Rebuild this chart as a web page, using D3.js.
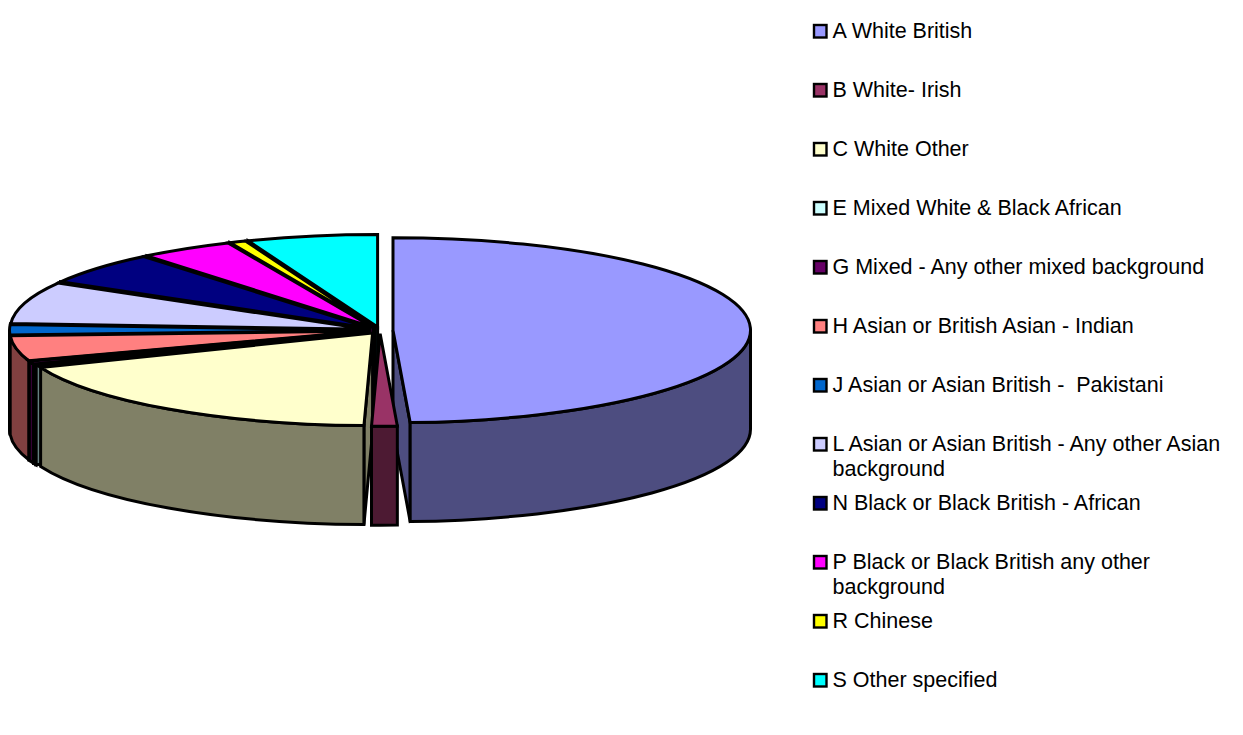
<!DOCTYPE html>
<html>
<head>
<meta charset="utf-8">
<script src="https://cdn.jsdelivr.net/npm/d3@7"></script>
<style>
  html, body { margin: 0; padding: 0; background: #fff; }
  svg { display: block; }
  text { font-family: "Liberation Sans", Arial, sans-serif; font-size: 21.5px; fill: #000; white-space: pre; }
</style>
</head>
<body>
<div id="graphicContainer"></div>
<script>
const categories = [
  "A White British",
  "B White- Irish",
  "C White Other",
  "E Mixed White & Black African",
  "G Mixed - Any other mixed background",
  "H Asian or British Asian - Indian",
  "J Asian or Asian British -  Pakistani",
  "L Asian or Asian British - Any other Asian\nbackground",
  "N Black or Black British - African",
  "P Black or Black British any other\nbackground",
  "R Chinese",
  "S Other specified"
]
const values = [49.2, 1.15, 18.55, 0.28, 0.55, 4.4, 1.8, 7.35, 5.75, 4.25, 0.75, 5.9]
const colors = ["#9999FF", "#993366", "#FFFFCC", "#CCFFFF", "#660066", "#FF8080", "#0066CC", "#CCCCFF", "#000080", "#FF00FF", "#FFFF00", "#00FFFF"]
// back to front, the big slice goes first so the Irish slice sits over its cut face
const drawOrder = [0, 11, 10, 9, 8, 7, 6, 5, 4, 3, 2, 1]

const width = 1243
const height = 735
const cx = 380
const cy = 330.3
const rx = 357.5
const ry = 92.5
const depth = 99
const explode = 13
const strokeWidth = 3

const svg = d3.select("#graphicContainer").append("svg")
  .attr("width", width)
  .attr("height", height)

const slices = d3.pie().sort(null).value(d => d)(values)

slices.forEach((s, i) => {
  const mid = (s.startAngle + s.endAngle) / 2
  s.key = i
  s.x = cx + explode * Math.sin(mid)
  s.y = cy - explode * Math.cos(mid) * (ry / rx)
})

const arc = d3.arc().innerRadius(0).outerRadius(rx)
const px = (s, t) => s.x + rx * Math.sin(t)
const py = (s, t) => s.y - ry * Math.cos(t)

// cut face running from the centre to the rim at angle t
function facePath(s, t) {
  return `M${s.x},${s.y}L${px(s, t)},${py(s, t)}L${px(s, t)},${py(s, t) + depth}L${s.x},${s.y + depth}Z`
}

// outer wall, only the part on the front half of the ellipse
function wallPath(s) {
  const a0 = Math.max(s.startAngle, Math.PI / 2)
  const a1 = Math.min(s.endAngle, Math.PI * 1.5)
  if (a1 <= a0) return null
  return `M${px(s, a0)},${py(s, a0)}A${rx},${ry} 0 0 1 ${px(s, a1)},${py(s, a1)}` +
    `L${px(s, a1)},${py(s, a1) + depth}A${rx},${ry} 0 0 0 ${px(s, a0)},${py(s, a0) + depth}Z`
}

const pie = svg.append("g").attr("class", "pie")

drawOrder.forEach(i => {
  const s = slices[i]
  const side = d3.interpolateRgb(colors[i], "#000")(0.5)
  const g = pie.append("g")
  const paths = []

  if (Math.sin(s.endAngle) > 0) paths.push(facePath(s, s.endAngle))
  if (Math.sin(s.startAngle) < 0) paths.push(facePath(s, s.startAngle))
  const wall = wallPath(s)
  if (wall) paths.push(wall)

  g.selectAll("path.side")
    .data(paths)
    .enter()
    .append("path")
    .attr("class", "side")
    .attr("d", d => d)
    .attr("fill", side)
    .attr("stroke", "#000")
    .attr("stroke-width", strokeWidth)
    .attr("stroke-linejoin", "miter")

  g.append("path")
    .attr("d", arc(s))
    .attr("transform", `translate(${s.x},${s.y}) scale(1,${ry / rx})`)
    .attr("fill", colors[i])
    .attr("stroke", "#000")
    .attr("stroke-width", strokeWidth)
    .attr("stroke-linejoin", "miter")
    .attr("vector-effect", "non-scaling-stroke")
})

// legend
const legendY = d3.scaleLinear().domain([0, categories.length - 1]).range([31, 680])

const legend = svg.append("g").attr("class", "legend")
  .selectAll("g")
  .data(categories)
  .enter()
  .append("g")
  .attr("transform", (d, i) => `translate(813,${legendY(i)})`)

legend.append("rect")
  .attr("x", 1)
  .attr("y", -6)
  .attr("width", 12.5)
  .attr("height", 12.5)
  .attr("fill", (d, i) => colors[i])
  .attr("stroke", "#000")
  .attr("stroke-width", 2.4)

legend.append("text")
  .attr("y", 7)
  .selectAll("tspan")
  .data(d => d.split("\n"))
  .enter()
  .append("tspan")
  .attr("x", 19.5)
  .attr("dy", (d, i) => i ? 25 : 0)
  .text(d => d)
</script>
</body>
</html>
